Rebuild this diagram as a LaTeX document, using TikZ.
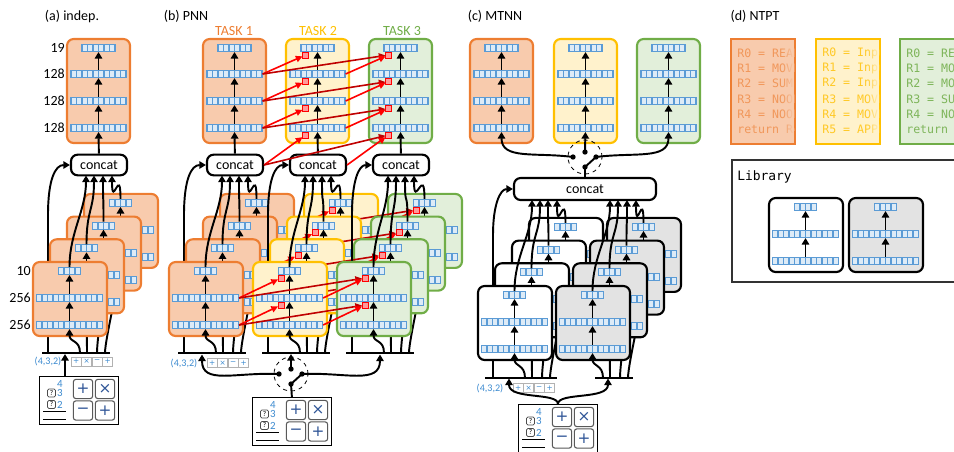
\documentclass[tikz,border=0pt]{standalone}
\usepackage{fontspec}
\setmainfont{Carlito}
\newfontfamily\monof{DejaVu Sans Mono}
\newfontfamily\symf{DejaVu Sans}
\usetikzlibrary{arrows.meta,fadings}
\definecolor{oB}{HTML}{ED7D31}
\definecolor{oF}{HTML}{F8CBAD}
\definecolor{yB}{HTML}{FFC000}
\definecolor{yF}{HTML}{FFF2CC}
\definecolor{gB}{HTML}{70AD47}
\definecolor{gF}{HTML}{E2EFDA}
\definecolor{kF}{HTML}{E3E3E3}
\definecolor{barB}{HTML}{5B9BD5}
\definecolor{cellF}{HTML}{DDEBF7}
\definecolor{numB}{HTML}{3D8BD0}
\definecolor{btnB}{HTML}{2F5597}
\definecolor{dred}{HTML}{C00000}
\tikzfading[name=fadeR, left color=transparent!100, right color=transparent!0]
\tikzset{
 bar/.style={fill=barB, draw=none, inner sep=0pt, outer sep=0pt, minimum height=6pt,
   minimum width={#1*4.125pt+0.9pt},
   path picture={\foreach \cc in {1,...,#1}{\fill[cellF] ([xshift={(\cc-1)*4.125pt+0.9pt}, yshift=0.75pt]path picture bounding box.south west) rectangle ++(3.225pt,4.5pt);}}},
 rsq/.style={draw=red, fill=red!40, line width=0.5pt, minimum size=4.5pt, inner sep=0pt, outer sep=0pt},
 cardO/.style={draw=oB, fill=oF, line width=1.6pt, rounded corners=5pt},
 cardY/.style={draw=yB, fill=yF, line width=1.6pt, rounded corners=5pt},
 cardG/.style={draw=gB, fill=gF, line width=1.6pt, rounded corners=5pt},
 cardW/.style={draw=black, fill=white, line width=1.6pt, rounded corners=5pt},
 cardK/.style={draw=black, fill=kF, line width=1.6pt, rounded corners=5pt},
 arr/.style={line width=1.45pt, -{Triangle[length=5pt,width=5.6pt]}},
 wire/.style={line width=1.45pt},
 rarr/.style={draw=red, line width=1.2pt, -{Triangle[length=5pt,width=4.8pt]}},
 drarr/.style={draw=dred, line width=1.2pt, -{Triangle[length=5pt,width=4.8pt]}},
 concat/.style={draw, fill=white, line width=1.6pt, rounded corners=5pt, minimum width=42pt, minimum height=15.5pt, inner sep=0pt},
 bus/.style={line width=2pt},
 ttl/.style={inner sep=0pt},
 lbl/.style={anchor=east, inner sep=0pt},
 numt/.style={text=numB, font=\fontsize{7.6}{8}\selectfont, inner sep=0pt},
 bnum/.style={text=numB, font=\fontsize{8.2}{9}\selectfont, inner sep=0pt},
 qbox/.style={draw=black!70, rounded corners=1pt, line width=0.5pt, minimum size=6pt, inner sep=0pt, font=\fontsize{5.5}{5.5}\selectfont},
 opb/.style={draw=gray!60, fill=white, line width=0.5pt, minimum width=7.6pt, minimum height=7pt, inner sep=0pt, font=\symf\fontsize{5.5}{5.5}\selectfont, text=numB},
 btn/.style={draw=gray!70!black, fill=white, rounded corners=2pt, line width=0.8pt, minimum size=14.5pt, inner sep=0pt, font=\symf\fontsize{11.5}{11.5}\selectfont, text=btnB},
 code/.style={anchor=west, inner sep=0pt, font=\monof\fontsize{8.7}{10}\selectfont},
}
\newcommand\tallcard[4]{%
  \draw[#3] (#1,39) rectangle (#1+63,143);
  \node[bar=6] (#2t) at (#1+31.5,48) {};
  \node[bar=10] (#2a) at (#1+31.5,74) {};
  \node[bar=10] (#2b) at (#1+31.5,101) {};
  \node[bar=10] (#2c) at (#1+31.5,128) {};
  \draw[arr] (#2c) -- (#2b);
  \draw[arr] (#2b) -- (#2a);
  \draw[arr] (#2a) -- (#2t);
  \ifnum#4=1
   \node[rsq] (#2s1) at (#1+19.5,55) {};
   \node[rsq] (#2s2) at (#1+19.5,81.5) {};
   \node[rsq] (#2s3) at (#1+19.5,108.5) {};
   \node[rsq] (#2s4) at (#1+19.5,135) {};
  \fi}
\newcommand\smallcard[5]{%
  \draw[#4] (#1,#2) rectangle (#1+74,#2+74);
  \node[bar=4] (#3t) at (#1+36.5,#2+9) {};
  \node[bar=12] (#3m) at (#1+36.5,#2+36) {};
  \node[bar=12] (#3b) at (#1+36.5,#2+63) {};
  \draw[arr] (#3b) -- (#3m);
  \draw[arr] (#3m) -- (#3t);
  \ifnum#5=1
   \node[rsq] (#3s1) at (#1+28,#2+16) {};
   \node[rsq] (#3s2) at (#1+28,#2+43) {};
  \fi}
\newcommand\inbox[3]{%
  \node[draw, fill=white, line width=0.6pt, minimum width=59.25pt, minimum height=36pt, inner sep=0pt, anchor=north west] (#3) at (#1,#2) {};
  \node[bnum] (#3n4) at (#1+21,#2+8) {4};
  \node[qbox] (#3q1) at (#1+12.5,#2+17) {?};
  \node[bnum] (#3n3) at (#1+21,#2+17) {3};
  \node[qbox] (#3q2) at (#1+12.5,#2+28.5) {?};
  \node[bnum] (#3n2) at (#1+21,#2+28.5) {2};
  \draw[line width=0.5pt] (#1+4,#2+35) -- (#1+27,#2+35);
  \draw[line width=0.5pt] (#1+4,#2+43) -- (#1+27,#2+43);
  \node[btn] (#3b1) at (#1+44,#2+13) {+};
  \node[btn] (#3b2) at (#1+66,#2+13) {×};
  \node[btn] (#3b3) at (#1+44,#2+34.5) {−};
  \node[btn] (#3b4) at (#1+66,#2+34.5) {+};}
\newcommand\ops[3]{%
  \node[opb] (#3a) at (#1+5.25,#2) {+};
  \node[opb] (#3b) at (#1+15.75,#2) {×};
  \node[opb] (#3c) at (#1+26.25,#2) {−};
  \node[opb] (#3d) at (#1+36.75,#2) {+};}
\newcommand\switch[3]{%
  \draw[dashed, line width=0.6pt] (#1,#2) circle[radius=12.75pt];
  \coordinate (#3l) at (#1-12,#2);
  \coordinate (#3m) at (#1,#2-5);
  \coordinate (#3r) at (#1+11,#2);
  \coordinate (#3p) at (#1,#2+10);
  \foreach \pp in {l,m,r,p} \fill (#3\pp) circle[radius=2pt];}
\newcommand\codelines[9]{%
  \begin{scope}
  \clip (#1+1,40) rectangle (#1+63,143);
  \node[code, text=#2] (cl#1a) at (#1+6,53) {#4};
  \node[code, text=#2] (cl#1b) at (#1+6,68.3) {#5};
  \node[code, text=#2] (cl#1c) at (#1+6,83.6) {#6};
  \node[code, text=#2] (cl#1d) at (#1+6,98.9) {#7};
  \node[code, text=#2] (cl#1e) at (#1+6,114.2) {#8};
  \node[code, text=#2] (cl#1f) at (#1+6,129.5) {#9};
  \fill[#3, path fading=fadeR] (#1+51,41) rectangle (#1+63,142);
  \end{scope}}
\begin{document}
\begin{tikzpicture}[x=0.75pt,y=-0.75pt,font=\fontsize{10.5}{12}\selectfont]
\useasboundingbox (0,0) rectangle (954,451);
\clip (0,0) rectangle (954,451);
% ================= (a)
\node[ttl] (aTitle) at (72,17) {(a) indep.};
\foreach \y/\t/\n in {48/19/1,74/128/2,101/128/3,128/128/4} \node[lbl] (aL\n) at (65,\y) {\t};
\foreach \y/\t/\n in {271/10/5,298/256/6,325/256/7} \node[lbl] (aL\n) at (31,\y) {\t};
\tallcard{67}{aT}{cardO}{0}
\node[concat] (aC) at (99,165) {concat};
\draw[arr] (aC) -- (aTc);
\foreach \k/\o in {0/-13,1/-5,2/4,3/13} \coordinate (aCi\k) at (99+\o,175.5);
\coordinate (aSk) at (48,353);
\draw[arr] (aSk) -- (48,215) .. controls (48,180) and (55,165) .. (aC.west);
\foreach \k/\dx in {3/72,2/64,1/54,0/47} {
  \pgfmathsetmacro\Lk{33+17*\k}
  \pgfmathsetmacro\Tk{262-22.7*\k}
  \smallcard{\Lk}{\Tk}{a\k}{cardO}{0}
  \draw[arr] (33+\dx,353) .. controls +(0,-14) and +(0,14) .. (a\k b.south);
  \draw[arr] (a\k t.north) .. controls +(0,-35) and +(0,35) .. (aCi\k);
}
\draw[bus] (42,353) -- (110,353);
\node[numt] (aTup) at (48,361.5) {(4,3,2)};
\ops{71}{361.5}{aO}
\inbox{39}{376}{aI}
\coordinate (aIo) at (65,376);
\draw[arr] (aIo) -- (65,354);
% ================= (b)
\node[ttl] (bTitle) at (186,16) {(b) PNN};
\node[ttl, text=oB] (bTk1) at (234,31) {TASK 1};
\node[ttl, text=yB] (bTk2) at (318,31) {TASK 2};
\node[ttl, text=gB] (bTk3) at (402,31) {TASK 3};
\tallcard{203}{bT1}{cardO}{0}
\tallcard{286}{bT2}{cardY}{1}
\tallcard{369}{bT3}{cardG}{1}
\foreach \j/\cx in {1/235,2/318,3/401} {
  \node[concat] (bC\j) at (\cx,165) {concat};
  \draw[arr] (bC\j) -- (bT\j c);
  \foreach \k/\o in {0/-13,1/-5,2/4,3/13} \coordinate (bC\j i\k) at (\cx+\o,175.5);
}
\foreach \src/\n in {bT1a/1,bT1b/2,bT1c/3,bC1/4} {
  \draw[rarr] (\src.east) -- (bT2s\n);
}
\foreach \src/\n in {bT1a/1,bT1b/2,bT1c/3,bC1/4} {
  \draw[drarr] (\src.east) -- (bT3s\n);
}
\foreach \src/\n in {bT2a/1,bT2b/2,bT2c/3,bC2/4} \draw[rarr] (\src.east) -- (bT3s\n);
\draw[arr] (184,353) -- (184,215) .. controls (184,180) and (191,165) .. (bC1.west);
\foreach \k/\dx in {3/72,2/64,1/54,0/47} {
  \ifnum\k=0
    \draw[arr] (268,353) -- (268,215) .. controls (268,180) and (275,165) .. (bC2.west);
    \draw[arr] (352,353) -- (352,215) .. controls (352,180) and (359,165) .. (bC3.west);
  \fi
  \foreach \j/\L/\sty/\rf in {1/169/cardO/0,2/253/cardY/1,3/337/cardG/1} {
    \pgfmathsetmacro\Lk{\L+17*\k}
    \pgfmathsetmacro\Tk{262-22.7*\k}
    \smallcard{\Lk}{\Tk}{b\j\k}{\sty}{\rf}
    \draw[arr] (\L+\dx,353) .. controls +(0,-14) and +(0,14) .. (b\j\k b.south);
    \draw[arr] (b\j\k t.north) .. controls +(0,-35) and +(0,35) .. (bC\j i\k);
  }
  \draw[rarr] (b1\k m.east) -- (b2\k s1);
  \draw[rarr] (b1\k b.east) -- (b2\k s2);
  \draw[drarr] (b1\k m.east) -- (b3\k s1);
  \draw[drarr] (b1\k b.east) -- (b3\k s2);
  \draw[rarr] (b2\k m.east) -- (b3\k s1);
  \draw[rarr] (b2\k b.east) -- (b3\k s2);
}
\draw[bus] (178,353) -- (246,353);
\draw[bus] (262,353) -- (330,353);
\draw[bus] (346,353) -- (414,353);
\node[numt] (bTup) at (184,363) {(4,3,2)};
\ops{207}{363}{bO}
\switch{291}{374}{bS}
\inbox{252}{397}{bI}
\draw[arr] (bSm) -- (291,354);
\draw[arr] (bSl) .. controls (235,372) and (202,385) .. (202,354.5);
\draw[arr] (bSr) .. controls (345,372) and (380,385) .. (380,354.5);
\draw[wire] (bSp) -- (bSr);
\draw[wire] (bSp) -- (bI.north);
% ================= (c)
\node[ttl] (cTitle) at (495,16) {(c) MTNN};
\tallcard{470}{cT1}{cardO}{0}
\tallcard{554}{cT2}{cardY}{0}
\tallcard{637}{cT3}{cardG}{0}
\node[concat, minimum width=106.5pt, minimum height=16.5pt] (cC) at (585,189) {concat};
\switch{585}{157}{cS}
\draw[arr] (cSm) -- (cT2c);
\draw[arr] (cSl) .. controls (535,152) and (501.5,160) .. (cT1c.south);
\draw[arr] (cSr) .. controls (635,152) and (668.5,160) .. (cT3c.south);
\draw[wire] (cSp) -- (cSr);
\draw[wire] (cSp) -- (cC.north);
\foreach \k/\x in {0/532,1/540,2/548,3/557} \coordinate (cCw\k) at (\x,200);
\foreach \k/\x in {0/610,1/618,2/627,3/636} \coordinate (cCk\k) at (\x,200);
\draw[arr] (493,378) -- (493,235) .. controls (493,205) and (500,189) .. (cC.west);
\foreach \k/\dx in {3/72,2/64,1/54,0/47} {
  \foreach \st/\L/\sty in {w/478/cardW,k/556/cardK} {
    \pgfmathsetmacro\Lk{\L+17*\k}
    \pgfmathsetmacro\Tk{286-22.7*\k}
    \smallcard{\Lk}{\Tk}{c\st\k}{\sty}{0}
    \draw[arr] (\L+\dx,378) .. controls +(0,-14) and +(0,14) .. (c\st\k b.south);
    \draw[arr] (c\st\k t.north) .. controls +(0,-35) and +(0,35) .. (cC\st\k);
  }
}
\draw[bus] (485,378) -- (557,378);
\draw[bus] (595,378) -- (633,378);
\node[numt] (cTup) at (490,388) {(4,3,2)};
\ops{513}{388}{cO}
\inbox{518}{404}{cI}
\draw[arr] (cI.north) .. controls (558,392) and (509,400) .. (509,378.5);
\draw[arr] (cI.north) .. controls (558,392) and (608,400) .. (608,378.5);
% ================= (d)
\node[ttl] (dTitle) at (755,16) {(d) NTPT};
\draw[draw=oB, fill=oF, line width=1.6pt] (731,39) rectangle (795,144);
\codelines{731}{oB!80!white}{oF}{R0 = READ}{R1 = MOVE}{R2 = SUM}{R3 = NOOP}{R4 = NOOP}{return R4}
\draw[draw=yB, fill=yF, line width=1.6pt] (816,39) rectangle (880,144);
\codelines{816}{yB!85!white}{yF}{R0 = Input}{R1 = Input}{R2 = Input}{R3 = MOVE}{R4 = MOVE}{R5 = APPLY}
\draw[draw=gB, fill=gF, line width=1.6pt] (900,39) rectangle (964,144);
\codelines{900}{gB!90!white}{gF}{R0 = READ}{R1 = MOVE}{R2 = MOVE}{R3 = SUM}{R4 = NOOP}{return R3}
\draw[line width=0.8pt, draw=black!80] (732,160) rectangle (970,282);
\node[anchor=west, inner sep=0pt, font=\monof\fontsize{9.7}{11}\selectfont] (lib) at (737,177) {Library};
\smallcard{769}{198}{dW}{cardW}{0}
\smallcard{849}{198}{dK}{cardK}{0}
\end{tikzpicture}
\end{document}
